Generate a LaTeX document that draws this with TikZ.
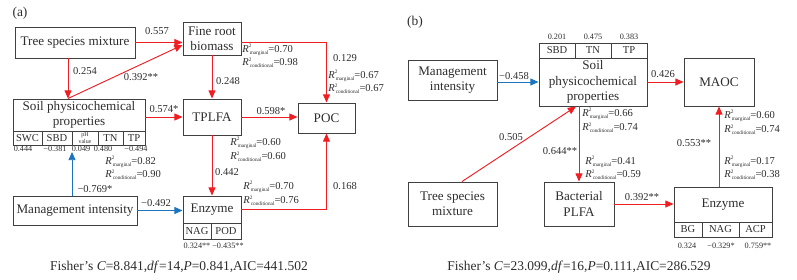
\documentclass[tikz,border=0pt]{standalone}
\usepackage{fontspec}
\setmainfont{Liberation Serif}
\usetikzlibrary{arrows.meta, positioning}
\definecolor{pathred}{RGB}{240,30,35}
\definecolor{pathblue}{RGB}{28,117,188}
\definecolor{boxgray}{RGB}{64,64,64}
\definecolor{txtgray}{RGB}{45,45,45}
\newcommand{\rsq}[2]{\textit{R}\rlap{\raisebox{0.9ex}{\fontsize{4.5}{5}\selectfont 2}}\raisebox{-0.45ex}{\fontsize{4.5}{5}\selectfont\,#1}=#2}

\begin{document}
\begin{tikzpicture}[x=0.03cm, y=-0.03cm, line width=0.8pt,
    varbox/.style 2 args={draw=boxgray, align=center, inner sep=0pt, text=txtgray,
      minimum width=#1*0.03cm, minimum height=#2*0.03cm, font=\fontsize{11.2}{13}\selectfont},
    cellbox/.style 2 args={draw=boxgray, inner sep=0pt, text=txtgray,
      minimum width=#1*0.03cm, minimum height=#2*0.03cm, font=\fontsize{9}{10}\selectfont},
    coef/.style={font=\fontsize{9}{10}\selectfont, text=txtgray, inner sep=0pt},
    rlab/.style={font=\fontsize{9}{10}\selectfont, text=txtgray, inner sep=0pt, anchor=west},
    load/.style={font=\fontsize{7}{8}\selectfont, text=txtgray, inner sep=0pt},
    redpath/.style={draw=pathred, -{Triangle[length=7pt, width=6pt]}},
    bluepath/.style={draw=pathblue, -{Triangle[length=7pt, width=6pt]}},
    caption/.style={font=\fontsize{11.5}{13}\selectfont, text=txtgray, inner sep=0pt}]
    \useasboundingbox (0,0) rectangle (797,279);

    % (a)
    \node[caption] (tagA) at (20,13) {(a)};
    \node[varbox={120}{31}] (tsmA) at (75,42.5) {Tree species mixture};
    \node[varbox={58}{33}] (frbA) at (212,38.5) {Fine root\\biomass};
    \node[varbox={132}{32}] (soilA) at (79,115) {Soil physicochemical\\properties};
    \node[cellbox={29}{14}] (swcA) at (27.5,138) {SWC};
    \node[cellbox={30}{14}] (sbdA) at (57,138) {SBD};
    \node[cellbox={26}{14}, font=\fontsize{5}{4.5}\selectfont, align=center] (phA) at (85,138) {pH\\value};
    \node[cellbox={25}{14}] (tnA) at (110.5,138) {TN};
    \node[cellbox={22}{14}] (tpA) at (134,138) {TP};
    \node[load] (lswcA) at (23,149) {0.444};
    \node[load] (lsbdA) at (55,149) {−0.381};
    \node[load] (lphA) at (81,149) {0.049};
    \node[load] (ltnA) at (103,149) {0.480};
    \node[load] (ltpA) at (136,149) {−0.494};
    \node[varbox={58}{36}] (tplfaA) at (212,117) {TPLFA};
    \node[varbox={57}{30}] (pocA) at (326.5,118) {POC};
    \node[varbox={124}{29}] (miA) at (75,210.5) {Management intensity};
    \node[varbox={58}{27}] (enzA) at (212,209.5) {Enzyme};
    \node[cellbox={28}{16}] (nagA) at (197,231) {NAG};
    \node[cellbox={30}{16}] (podA) at (226,231) {POD};
    \node[load] (lnagA) at (197,246) {0.324**};
    \node[load] (lpodA) at (228,246) {−0.435**};
    \coordinate (soilinA) at (72,152);

    \draw[redpath] (tsmA.east) -- (tsmA.east -| frbA.west);
    \draw[redpath] ([shift={(-7,0)}]tsmA.south) -- ([shift={(-7,0)}]tsmA.south |- soilA.north);
    \draw[redpath] ([shift={(-11,0)}]soilA.north) -- ([shift={(0,6.5)}]frbA.west);
    \draw[redpath] (soilA.east |- tplfaA.west) -- (tplfaA.west);
    \draw[redpath] (tplfaA.east) -- (tplfaA.east -| pocA.west);
    \draw[redpath] (frbA.south) -- (tplfaA.north);
    \draw[redpath] ([shift={(0,3.5)}]frbA.east) -| (pocA.north);
    \draw[redpath] (tplfaA.south) -- (enzA.north);
    \draw[redpath] (enzA.east) -| (pocA.south);
    \draw[bluepath] (miA.north -| soilinA) -- (soilinA);
    \draw[bluepath] (miA.east) -- (miA.east -| enzA.west);

    \node[coef] (c1A) at (157,31) {0.557};
    \node[coef] (c2A) at (85,71) {0.254};
    \node[coef] (c3A) at (141,77) {0.392**};
    \node[coef] (c4A) at (164,109) {0.574*};
    \node[coef] (c5A) at (271,111) {0.598*};
    \node[coef] (c6A) at (228,81) {0.248};
    \node[coef] (c7A) at (345,58) {0.129};
    \node[coef] (c8A) at (227,172) {0.442};
    \node[coef] (c9A) at (345,186) {0.168};
    \node[coef] (c10A) at (95,189) {−0.769*};
    \node[coef] (c11A) at (156,203) {−0.492};

    \node[rlab] (r1A) at (242,50) {\rsq{marginal}{0.70}};
    \node[rlab] (r2A) at (242,63) {\rsq{conditional}{0.98}};
    \node[rlab] (r3A) at (328,76) {\rsq{marginal}{0.67}};
    \node[rlab] (r4A) at (328,89) {\rsq{conditional}{0.67}};
    \node[rlab] (r5A) at (230,143) {\rsq{marginal}{0.60}};
    \node[rlab] (r6A) at (230,157) {\rsq{conditional}{0.60}};
    \node[rlab] (r7A) at (105,162) {\rsq{marginal}{0.82}};
    \node[rlab] (r8A) at (105,175) {\rsq{conditional}{0.90}};
    \node[rlab] (r9A) at (243,187) {\rsq{marginal}{0.70}};
    \node[rlab] (r10A) at (243,201) {\rsq{conditional}{0.76}};

    \node[caption] (fisherA) at (179,267) {Fisher's \textit{C}=8.841,\textit{df}=14,\textit{P}=0.841,AIC=441.502};

    % (b)
    \node[caption] (tagB) at (415,22) {(b)};
    \node[varbox={89}{40}] (miB) at (452.5,80) {Management\\intensity};
    \node[varbox={108}{48}] (soilB) at (593,82) {Soil\\physicochemical\\properties};
    \node[cellbox={36}{15}] (sbdB) at (557,50.5) {SBD};
    \node[cellbox={36}{15}] (tnB) at (593,50.5) {TN};
    \node[cellbox={36}{15}] (tpB) at (629,50.5) {TP};
    \node[load] (lsbdB) at (557,37) {0.201};
    \node[load] (ltnB) at (593,37) {0.475};
    \node[load] (ltpB) at (629,37) {0.383};
    \node[varbox={70}{48}] (maocB) at (719,82) {MAOC};
    \node[varbox={89}{44}] (tsmB) at (452.5,204) {Tree species\\mixture};
    \node[varbox={70}{44}] (bacB) at (579,204) {Bacterial\\PLFA};
    \node[varbox={98}{35}] (enzB) at (723,204.5) {Enzyme};
    \node[cellbox={28}{15}] (bgB) at (688,229.5) {BG};
    \node[cellbox={37}{15}] (nagB) at (720.5,229.5) {NAG};
    \node[cellbox={33}{15}] (acpB) at (755.5,229.5) {ACP};
    \node[load] (lbgB) at (687,246) {0.324};
    \node[load] (lnagB) at (721,246) {−0.329*};
    \node[load] (lacpB) at (758,246) {0.759**};

    \draw[bluepath] (miB.east |- soilB.west) -- (soilB.west);
    \draw[redpath] (soilB.east) -- (maocB.west);
    \draw[redpath] ([shift={(9.5,0)}]tsmB.north) -- ([shift={(-17,0)}]soilB.south);
    \draw[redpath] (bacB.north |- soilB.south) -- (bacB.north);
    \draw[redpath] (bacB.east) -- (bacB.east -| enzB.west);
    \draw[redpath] (enzB.north -| maocB.south) -- (maocB.south);

    \node[coef] (c1B) at (514,76) {−0.458};
    \node[coef] (c2B) at (663,74) {0.426};
    \node[coef] (c3B) at (511,137) {0.505};
    \node[coef] (c4B) at (560,151) {0.644**};
    \node[coef] (c5B) at (642,197) {0.392**};
    \node[coef] (c6B) at (694,143) {0.553**};

    \node[rlab] (r1B) at (582,114) {\rsq{marginal}{0.66}};
    \node[rlab] (r2B) at (582,128) {\rsq{conditional}{0.74}};
    \node[rlab] (r3B) at (585,162) {\rsq{marginal}{0.41}};
    \node[rlab] (r4B) at (585,175) {\rsq{conditional}{0.59}};
    \node[rlab] (r5B) at (724,116) {\rsq{marginal}{0.60}};
    \node[rlab] (r6B) at (724,130) {\rsq{conditional}{0.74}};
    \node[rlab] (r7B) at (724,162) {\rsq{marginal}{0.17}};
    \node[rlab] (r8B) at (724,175) {\rsq{conditional}{0.38}};

    \node[caption] (fisherB) at (579,267) {Fisher's \textit{C}=23.099,\textit{df}=16,\textit{P}=0.111,AIC=286.529};
\end{tikzpicture}
\end{document}
